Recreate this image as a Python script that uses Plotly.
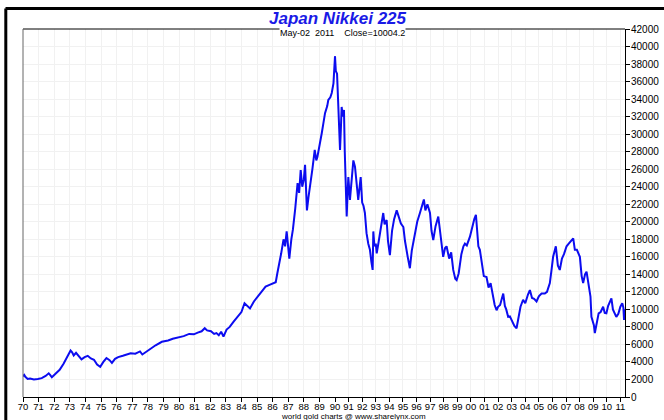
import plotly.graph_objects as go

# ---- data (decimal year, close) ----
years = [
    1970.00, 1970.08, 1970.15, 1970.30, 1970.45, 1970.70, 1970.95, 1971.20, 1971.45, 1971.65,
    1971.75, 1971.85, 1972.05, 1972.35, 1972.60, 1972.85, 1973.05, 1973.15, 1973.25, 1973.40,
    1973.55, 1973.75, 1973.95, 1974.15, 1974.35, 1974.55, 1974.75, 1974.95, 1975.15, 1975.35,
    1975.55, 1975.70, 1975.90, 1976.10, 1976.40, 1976.70, 1976.90, 1977.20, 1977.50, 1977.65,
    1977.85, 1978.15, 1978.50, 1978.90, 1979.30, 1979.60, 1979.95, 1980.30, 1980.65, 1980.95,
    1981.20, 1981.45, 1981.65, 1981.80, 1982.05, 1982.25, 1982.40, 1982.55, 1982.70, 1982.85,
    1983.05, 1983.25, 1983.50, 1983.75, 1984.00, 1984.20, 1984.40, 1984.55, 1984.80, 1985.05,
    1985.30, 1985.55, 1985.80, 1986.05, 1986.20, 1986.30, 1986.45, 1986.55, 1986.70, 1986.80,
    1986.90, 1987.00, 1987.07, 1987.20, 1987.30, 1987.45, 1987.60, 1987.70, 1987.80, 1987.90,
    1988.00, 1988.08, 1988.14, 1988.20, 1988.30, 1988.40, 1988.55, 1988.70, 1988.80, 1988.87,
    1989.00, 1989.15, 1989.25, 1989.36, 1989.50, 1989.57, 1989.70, 1989.79, 1989.90, 1989.96,
    1990.00,
    1990.06, 1990.15, 1990.25, 1990.32, 1990.37, 1990.43, 1990.49, 1990.57, 1990.66, 1990.72,
    1990.80, 1990.86, 1990.92, 1990.98, 1991.10, 1991.22, 1991.35, 1991.47, 1991.60, 1991.71,
    1991.80, 1991.89, 1992.00, 1992.10, 1992.20, 1992.32, 1992.45, 1992.57, 1992.68, 1992.77,
    1992.82, 1992.90, 1993.00, 1993.07, 1993.20, 1993.35, 1993.55, 1993.65, 1993.80, 1993.90,
    1994.04, 1994.20, 1994.35, 1994.54, 1994.70, 1994.85, 1995.03, 1995.15, 1995.35, 1995.51,
    1995.65, 1995.80, 1995.88, 1996.05, 1996.25, 1996.40, 1996.54, 1996.65, 1996.80, 1996.99,
    1997.10, 1997.23, 1997.40, 1997.60, 1997.75, 1997.85, 1997.96, 1998.10, 1998.21, 1998.40,
    1998.55, 1998.70, 1998.85, 1998.95, 1999.10, 1999.30, 1999.45, 1999.56, 1999.70, 1999.93,
    2000.10, 2000.25, 2000.37, 2000.45, 2000.55, 2000.66, 2000.80, 2000.95, 2001.15, 2001.30,
    2001.45, 2001.60, 2001.75, 2001.89, 2002.00, 2002.15, 2002.30, 2002.38, 2002.50, 2002.60,
    2002.74, 2002.87, 2003.05, 2003.20, 2003.36, 2003.50, 2003.65, 2003.84, 2004.00, 2004.20,
    2004.34, 2004.50, 2004.65, 2004.83, 2005.00, 2005.20, 2005.44, 2005.60, 2005.81, 2005.95,
    2006.05, 2006.25, 2006.40, 2006.54, 2006.70, 2006.85, 2007.04, 2007.20, 2007.40, 2007.53,
    2007.65, 2007.80, 2008.02, 2008.15, 2008.26, 2008.40, 2008.51, 2008.65, 2008.80, 2008.87,
    2008.95, 2009.05, 2009.12, 2009.25, 2009.40, 2009.55, 2009.73, 2009.85, 2009.97, 2010.10,
    2010.25, 2010.34, 2010.45, 2010.60, 2010.70, 2010.85, 2011.00, 2011.14, 2011.22, 2011.27,
    2011.33,
]
closes = [
    2350, 2520, 2300, 2050, 2100, 2000, 2050, 2150, 2400, 2700,
    2500, 2250, 2600, 3100, 3800, 4600, 5300, 5100, 4750, 5050,
    4750, 4300, 4550, 4700, 4400, 4250, 3700, 3450, 4000, 4450,
    4200, 3900, 4350, 4550, 4700, 4850, 5000, 4950, 5200, 4850,
    5100, 5550, 5900, 6300, 6450, 6650, 6800, 6950, 7200, 7150,
    7350, 7500, 7850, 7600, 7500, 7200, 7300, 7050, 7450, 6900,
    7700, 8000, 8600, 9150, 9700, 10700, 10300, 10100, 10900, 11450,
    12000, 12600, 12800, 13000, 13100, 14100, 15800, 16400, 18000, 17200,
    18900, 16700, 15800, 18000, 19100, 21500, 24400, 23300, 25900, 24000,
    24800, 26500, 24500, 21300, 22800, 24000, 26000, 28200, 27000, 27400,
    28500, 30100, 31200, 32400, 33200, 33900, 34200, 34700, 35800, 37500,
    38900,
    37200, 36900, 33500, 30500, 28200, 30500, 33100, 32000, 32750, 28000,
    24000, 20600, 23000, 25100, 22500, 24800, 27000, 26300, 24300, 22500,
    23800, 25100, 22200, 21800, 21000, 18700, 17500, 16800, 15400, 14500,
    18900, 17200, 17500, 16400, 17600, 19000, 21000, 19700, 20200, 17800,
    16200, 19000, 20300, 21300, 20500, 19800, 19400, 17800, 16000, 14700,
    16700, 18000, 18700, 20000, 21000, 21800, 22550, 21300, 22000, 21000,
    19000, 17900, 19500, 20600, 18500, 17200, 16000, 17000, 17200, 15800,
    16500, 14500, 13500, 13350, 14100, 16300, 17200, 17500, 17300, 18300,
    19500, 20300, 20800, 18500, 17200, 16800, 15200, 13800, 13700, 12500,
    13000, 11500, 10500, 9900, 10300, 10500, 11300, 11800, 10400, 10000,
    9150, 9200, 8600, 8100, 7850, 9000, 10300, 11100, 10700, 11700,
    12200, 11300, 11200, 10900, 11500, 11800, 11800, 12000, 13000, 14700,
    16000, 17200, 15000, 14500, 15800, 16300, 17200, 17500, 17900, 18100,
    16800, 16800, 16000, 13800, 13000, 14000, 14300, 12800, 11450, 9150,
    8600, 8200, 7300, 8500, 9550, 9700, 10300, 9600, 9550, 10400,
    10900, 11250, 10000, 9500, 9150, 9500, 10300, 10700, 10200, 8800,
    10004,
]

ticks_a = list(range(1970, 1990))
labels_a = ["70", "71", "72", "73", "74", "75", "76", "77", "78", "79",
            "80", "81", "82", "83", "84", "85", "86", "87", "88", "89"]
ticks_b = list(range(1990, 2012))
labels_b = ["90", "91", "92", "93", "94", "95", "96", "97", "98", "99",
            "00", "01", "02", "03", "04", "05", "06", "07", "08", "09", "10", "11"]
y_ticks = list(range(0, 42001, 2000))
y_labels = [str(v) for v in y_ticks]

title_text = "Japan Nikkei 225"
subtitle_text = "May-02&nbsp;&nbsp;2011&nbsp;&nbsp;&nbsp;&nbsp;Close=10004.2"
footer_text = "world gold charts @ www.sharelynx.com"

SPLIT = 1990.0
xa, ya = zip(*[(x, c) for x, c in zip(years, closes) if x <= SPLIT])
xb, yb = zip(*[(x, c) for x, c in zip(years, closes) if x >= SPLIT])

W, H = 664, 420
L, R, T, B = 23, 625, 29, 397
split_px = 335
d = (split_px - L) / (R - L)

def px(x):
    return (x - L) / (R - L)

def py(y):
    return (B - y) / (B - T)

line_style = dict(color="#0c0cf0", width=2)
font = "Liberation Sans, Arial, sans-serif"

fig = go.Figure()
fig.add_trace(go.Scatter(x=xa, y=ya, mode="lines", line=line_style,
                         xaxis="x", yaxis="y", hoverinfo="x+y", showlegend=False))
fig.add_trace(go.Scatter(x=xb, y=yb, mode="lines", line=line_style,
                         xaxis="x2", yaxis="y", hoverinfo="x+y", showlegend=False))

axis_common = dict(
    showgrid=True, gridcolor="#f1f1f1", gridwidth=1, zeroline=False,
    showline=True, linecolor="#000", linewidth=1,
    ticks="outside", ticklen=4, tickcolor="#000", automargin=False,
    ticklabelstandoff=-3,
    tickfont=dict(family=font, size=9.5, color="#000"),
)

fig.update_layout(
    width=W, height=H,
    margin=dict(l=L, r=W - R, t=T, b=H - B, pad=0, autoexpand=False),
    paper_bgcolor="white", plot_bgcolor="white",
    xaxis=dict(domain=[0, d], range=[1970, 1989.999], tickvals=ticks_a, ticktext=labels_a,
               anchor="y", **axis_common),
    xaxis2=dict(domain=[d, 1], range=[1990, 2011.34], tickvals=ticks_b, ticktext=labels_b,
                anchor="y", **axis_common),
    yaxis=dict(range=[0, 42000], tickvals=y_ticks, ticktext=y_labels, side="right", anchor="x2",
               showgrid=True, gridcolor="#f1f1f1", zeroline=False, automargin=False,
               showline=True, linecolor="#000", linewidth=1,
               ticks="outside", ticklen=4, tickcolor="#000", ticklabelstandoff=-1,
               tickfont=dict(family=font, size=10, color="#000")),
    shapes=[
        # plot frame (top + left)
        dict(type="line", xref="paper", yref="paper", x0=0, x1=1, y0=1, y1=1,
             line=dict(color="#000", width=1)),
        dict(type="line", xref="paper", yref="paper", x0=0, x1=0, y0=0, y1=1,
             line=dict(color="#666", width=1)),
        # outer black border (top and left)
        dict(type="line", xref="paper", yref="paper", x0=px(5.5), x1=px(664), y0=py(8.5), y1=py(8.5),
             line=dict(color="#000", width=3)),
        dict(type="line", xref="paper", yref="paper", x0=px(5.8), x1=px(5.8), y0=py(8.5), y1=py(420),
             line=dict(color="#000", width=3)),
    ],
    annotations=[
        dict(text="<b><i>" + title_text + "</i></b>", xref="paper", yref="paper",
             x=px(338), y=py(19), xanchor="center", yanchor="middle", showarrow=False,
             font=dict(family=font, size=17, color="#1a1ae6")),
        dict(text=subtitle_text, xref="paper", yref="paper",
             x=px(342), y=py(33.5), xanchor="center", yanchor="middle", showarrow=False,
             bgcolor="white", borderpad=0,
             font=dict(family=font, size=9, color="#000")),
        dict(text=footer_text, xref="paper", yref="paper",
             x=px(353), y=py(416.5), xanchor="center", yanchor="middle", showarrow=False,
             font=dict(family=font, size=8, color="#000")),
    ],
)

fig.write_html("out.html", config={"displayModeBar": False},
               post_script="document.body.style.margin='0';document.body.style.padding='0';")
